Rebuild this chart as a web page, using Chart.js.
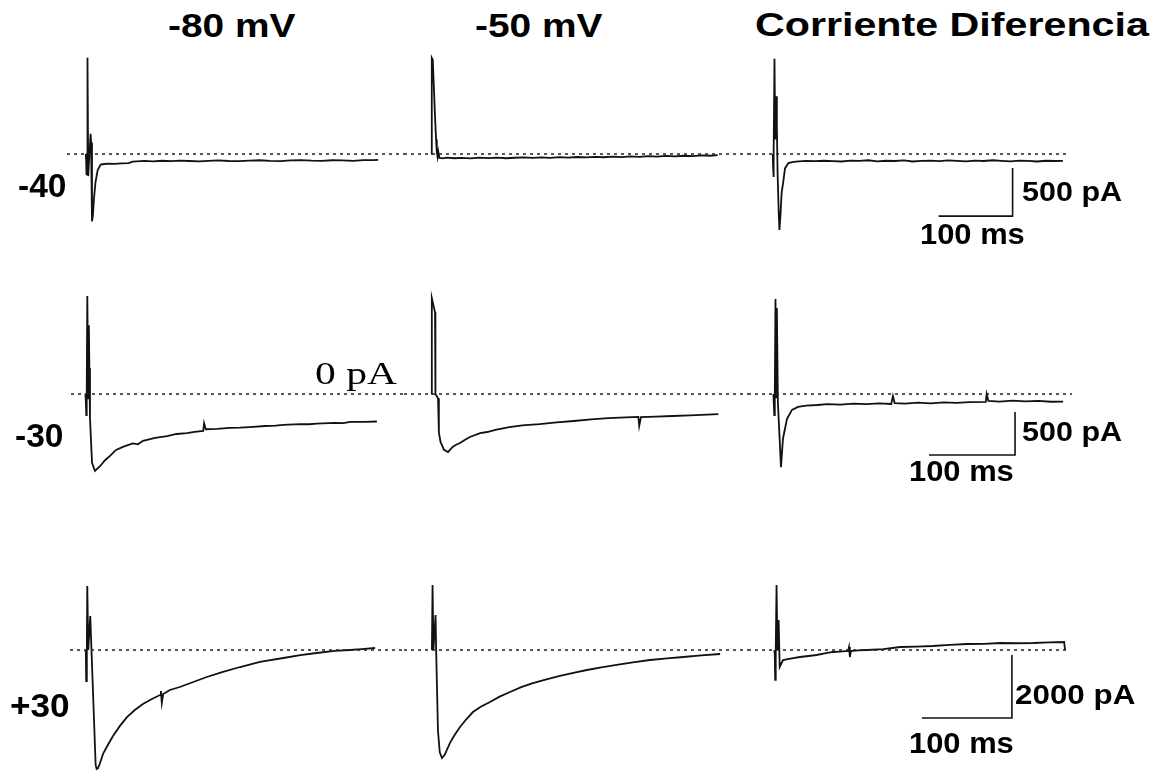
<!DOCTYPE html>
<html>
<head>
<meta charset="utf-8">
<script src="https://cdn.jsdelivr.net/npm/chart.js@4.4.1/dist/chart.umd.min.js"></script>
<style>
  body { margin: 0; background: #fff; }
  #fig { position: relative; width: 1158px; height: 771px; overflow: hidden; background: #fff; }
  #fig canvas { position: absolute; }
  .lbl { position: absolute; white-space: nowrap; line-height: 1; color: #000;
         font-family: "Liberation Sans", Arial, sans-serif; font-weight: bold; transform-origin: 0 0; }
  .title { font-size: 33.5px; }
  .rowlbl { font-size: 33.5px; }
  .bar { font-size: 28px; }
  .ms { font-size: 30px; }
  .zero { font-family: "Liberation Serif", "Times New Roman", serif; font-weight: normal; font-size: 32px; }
</style>
</head>
<body>
<div id="fig">
  <div class="lbl title" style="left:168px;top:8.6px;transform:scaleX(1.16)">-80 mV</div>
  <div class="lbl title" style="left:475px;top:8.6px;transform:scaleX(1.16)">-50 mV</div>
  <div class="lbl title" style="left:755px;top:8px;transform:scaleX(1.23)">Corriente Diferencia</div>

  <div class="lbl rowlbl" style="left:18px;top:168.6px">-40</div>
  <div class="lbl rowlbl" style="left:15px;top:418.6px">-30</div>
  <div class="lbl rowlbl" style="left:10px;top:688.6px;transform:scaleX(1.05)">+30</div>

  <div class="lbl zero" style="left:315px;top:357px;transform:scaleX(1.3)">0 pA</div>

  <div class="lbl bar" style="left:1022px;top:178.4px;transform:scaleX(1.09)">500 pA</div>
  <div class="lbl ms" style="left:920px;top:219px;transform:scaleX(1.03)">100 ms</div>
  <div class="lbl bar" style="left:1022px;top:418.4px;transform:scaleX(1.09)">500 pA</div>
  <div class="lbl ms" style="left:909px;top:456px;transform:scaleX(1.03)">100 ms</div>
  <div class="lbl bar" style="left:1015px;top:681px;transform:scaleX(1.12)">2000 pA</div>
  <div class="lbl ms" style="left:909px;top:728px;transform:scaleX(1.03)">100 ms</div>
</div>
<script>
// column headings (holding potential) and row labels (test step, mV)
const columns = ['-80 mV', '-50 mV', 'Corriente Diferencia'];
const steps = ['-40', '-30', '+30'];

// scale bars per row: 100 ms and pA
const barMs = [100, 100, 100];
const barPA = [500, 500, 2000];

// traces: time (ms from step onset) and current (pA)
// step -40
const t80m40 = [-3, -2.5, -2, -1.2, -0.7, 0.3, 1.5, 3.5, 4.2, 5.4, 6.6, 8, 10, 13, 17, 22, 28, 36, 45, 55, 60, 66, 76, 88, 100, 112, 124, 137, 150, 163, 176, 190, 204, 218, 232, 246, 260, 274, 288, 302, 316, 330, 344, 358, 372, 385, 392];
const i80m40 = [0, -70, -220, 0, 1000, -230, -60, 210, 120, -700, -640, -470, -300, -170, -110, -104, -100, -102, -97, -95, -80, -76, -72, -77, -70, -74, -69, -73, -77, -71, -67, -73, -75, -69, -65, -71, -74, -67, -63, -69, -72, -65, -67, -71, -64, -63, -62];

const t50m40 = [-1, -0.3, 1, 2.5, 4, 5.5, 6.5, 7.5, 8.5, 10, 14, 20, 30, 40, 52, 64, 76, 88, 100, 112, 124, 136, 148, 160, 172, 184, 196, 208, 220, 232, 244, 256, 268, 280, 292, 304, 316, 328, 340, 352, 364, 376, 386];
const i50m40 = [0, 1000, 980, 700, 400, 150, 20, -30, 25, -40, -45, -38, -44, -40, -46, -38, -42, -37, -44, -39, -35, -41, -36, -40, -33, -38, -31, -36, -29, -34, -27, -32, -25, -30, -22, -27, -20, -25, -18, -22, -14, -18, -12];

const tDm40 = [-3, -2.7, -2.2, -1.5, -0.7, 0.3, 1.5, 2.5, 3.5, 5, 6, 7.5, 9, 11, 13.5, 18, 25, 32, 42, 54, 66, 78, 90, 102, 114, 126, 138, 150, 162, 174, 186, 198, 210, 222, 234, 246, 258, 270, 282, 294, 306, 318, 330, 342, 354, 366, 378, 389];
const iDm40 = [0, -110, -240, 0, 990, 150, 600, 300, -200, -600, -790, -620, -400, -300, -150, -95, -82, -76, -72, -74, -70, -74, -78, -68, -72, -65, -76, -70, -73, -67, -78, -71, -68, -74, -66, -72, -77, -69, -73, -65, -71, -76, -68, -72, -78, -70, -73, -71];

// step -30
const t80m30 = [-3, -2.5, -2, -1.5, -0.8, 0.3, 1, 1.6, 2.3, 4.7, 8.1, 14, 19.8, 25.6, 32.6, 40.7, 52, 58, 64, 78, 92, 103, 115, 124, 134, 135, 137, 150, 165, 177, 188, 206, 218, 227, 247, 257, 266, 287, 297, 305, 322, 336];
const i80m30 = [0, -80, -245, 0, 1140, -50, 800, 300, -280, -800, -895, -840, -770, -720, -650, -615, -575, -585, -545, -510, -490, -465, -455, -440, -430, -340, -410, -405, -395, -392, -385, -372, -368, -360, -350, -352, -345, -335, -338, -325, -325, -320];

const t50m30 = [-0.8, -0.2, 3.5, 4, 7, 8, 10, 14, 18.6, 24, 28, 32.6, 38, 44, 56, 64, 75, 90, 105, 125, 145, 165, 185, 205, 225, 240, 241, 243, 260, 280, 300, 320, 333];
const i50m30 = [0, 1115, 950, 0, -50, -450, -560, -650, -675, -615, -590, -570, -535, -500, -455, -442, -415, -385, -365, -350, -330, -314, -295, -280, -272, -267, -372, -268, -262, -256, -248, -240, -233];

const tDm30 = [-3, -2.5, -2, -1.4, -0.6, 0.3, 1, 2.2, 5.8, 8.1, 12.8, 18.6, 25.6, 35, 48, 60, 75, 90, 105, 120, 134, 136, 138, 150, 165, 180, 195, 210, 225, 244, 245, 247, 260, 275, 290, 305, 320, 334];
const iDm30 = [0, -128, -245, 0, 1105, -40, 1000, -100, -850, -520, -290, -185, -150, -135, -128, -118, -124, -112, -118, -110, -116, -23, -105, -112, -100, -108, -98, -104, -94, -92, 0, -80, -88, -78, -86, -80, -90, -88];

// step +30
const t80p30 = [-3, -2.4, -2, -1.3, -0.8, 0.3, 2.5, 8.5, 9.6, 11, 13, 16.7, 22, 27.8, 35.5, 43.3, 52, 61, 71, 80, 81, 82, 83.5, 91, 102, 117, 132, 149, 169, 191, 217, 236, 254, 274, 291, 304, 319];
const i80p30 = [0, -60, -985, 0, 2030, 0, 1080, -3650, -3780, -3760, -3620, -3300, -3015, -2730, -2410, -2130, -1905, -1715, -1555, -1430, -1300, -1680, -1400, -1270, -1175, -1016, -857, -700, -540, -380, -254, -160, -95, -30, 0, 30, 63];

const t50p30 = [-1.2, -0.5, 0.5, 2.8, 3.5, 5.5, 7.5, 10, 13, 18.9, 24, 30, 37, 44.4, 53, 63.3, 74, 85.5, 98, 111, 126, 141, 156, 171, 187, 204, 222, 241, 260, 278, 298, 319];
const i50p30 = [0, 2060, 0, 1110, 0, -2550, -3250, -3430, -3330, -2950, -2700, -2445, -2200, -1970, -1800, -1650, -1480, -1335, -1180, -1050, -935, -825, -725, -635, -550, -475, -395, -318, -265, -222, -170, -127];

const tDp30 = [-3, -2.5, -2, -1.4, -0.5, 0.5, 1.8, 3.0, 6.7, 12, 18, 25.5, 35, 44, 53, 62, 70, 79, 80, 81, 82, 90, 100, 118, 137, 155, 173, 192, 211, 230, 248, 266, 285, 302, 319, 320];
const iDp30 = [0, -100, -950, 0, 2060, 0, 950, -540, -318, -290, -255, -222, -190, -159, -110, -63, -50, -32, 95, -222, -32, -15, 0, 30, 95, 110, 127, 160, 190, 195, 222, 215, 222, 240, 254, 0];

// ---- layout (pixels) ----
const colBox = [[60, 404], [404, 748], [748, 1158]];
const rowBox = [
  { top: 45,  bottom: 250, baseY: 154, msPx: 1.351, pAPx: 10.4,  zeroL: 67, zeroR: 1068, barAt: [321, -146] },
  { top: 285, bottom: 490, baseY: 394, msPx: 1.163, pAPx: 11.63, zeroL: 71, zeroR: 1072, barAt: [278, -210] },
  { top: 555, bottom: 771, baseY: 650, msPx: 1.111, pAPx: 31.75, zeroL: 70, zeroR: 1068, barAt: [261, -160] }
];

const panels = [
  { row: 0, col: 0, t: t80m40, i: i80m40, x0: 88 },
  { row: 0, col: 1, t: t50m40, i: i50m40, x0: 432 },
  { row: 0, col: 2, t: tDm40,  i: iDm40,  x0: 775 },
  { row: 1, col: 0, t: t80m30, i: i80m30, x0: 88 },
  { row: 1, col: 1, t: t50m30, i: i50m30, x0: 432 },
  { row: 1, col: 2, t: tDm30,  i: iDm30,  x0: 776 },
  { row: 2, col: 0, t: t80p30, i: i80p30, x0: 88 },
  { row: 2, col: 1, t: t50p30, i: i50p30, x0: 433 },
  { row: 2, col: 2, t: tDp30,  i: iDp30,  x0: 777 }
];

const fig = document.getElementById('fig');

function toPoints(t, i) {
  return t.map((v, k) => ({ x: v, y: i[k] }));
}

panels.forEach(p => {
  const r = rowBox[p.row];
  const [left, right] = colBox[p.col];
  const w = right - left, h = r.bottom - r.top;

  const canvas = document.createElement('canvas');
  canvas.width = w;
  canvas.height = h;
  canvas.style.left = left + 'px';
  canvas.style.top = r.top + 'px';
  fig.insertBefore(canvas, fig.firstChild);

  const xMin = (left - p.x0) * r.msPx;
  const xMax = (right - p.x0) * r.msPx;
  const yMax = (r.baseY - r.top) * r.pAPx;
  const yMin = (r.baseY - r.bottom) * r.pAPx;

  const zFrom = Math.max(xMin, (r.zeroL - p.x0) * r.msPx);
  const zTo = Math.min(xMax, (r.zeroR - p.x0) * r.msPx);

  const datasets = [
    {
      label: '0 pA',
      data: [{ x: zFrom, y: 0 }, { x: zTo, y: 0 }],
      borderColor: '#222',
      borderWidth: 1.5,
      borderDash: [3, 4]
    },
    {
      label: columns[p.col] + ' / ' + steps[p.row],
      data: toPoints(p.t, p.i),
      borderColor: '#111',
      borderWidth: 1.8
    }
  ];

  if (p.col === 2) {
    const [bt, by] = r.barAt;
    datasets.push({
      label: 'scale',
      data: [
        { x: bt - barMs[p.row], y: by - barPA[p.row] },
        { x: bt, y: by - barPA[p.row] },
        { x: bt, y: by }
      ],
      borderColor: '#111',
      borderWidth: 1.6
    });
  }

  datasets.forEach(d => {
    d.showLine = true;
    d.pointRadius = 0;
    d.fill = false;
    d.tension = 0;
  });

  new Chart(canvas.getContext('2d'), {
    type: 'scatter',
    data: { datasets: datasets },
    options: {
      responsive: false,
      animation: false,
      layout: { padding: 0 },
      scales: {
        x: { type: 'linear', min: xMin, max: xMax, display: false },
        y: { type: 'linear', min: yMin, max: yMax, display: false }
      },
      plugins: {
        legend: { display: false },
        tooltip: { enabled: false }
      }
    }
  });
});
</script>
</body>
</html>
